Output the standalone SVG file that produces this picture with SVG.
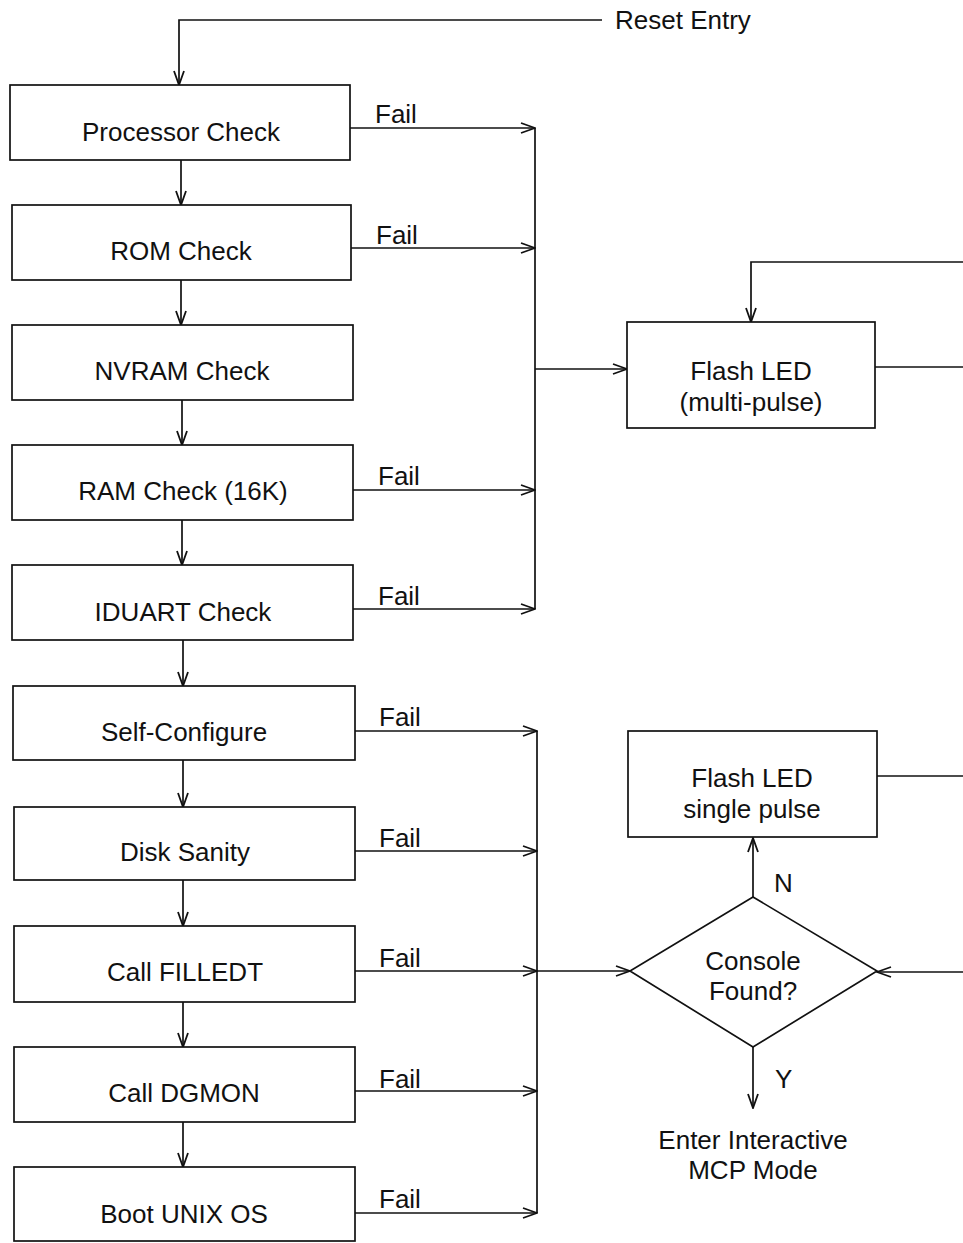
<svg xmlns="http://www.w3.org/2000/svg" width="963" height="1243" viewBox="0 0 963 1243">
<style>
.box{fill:#fff;stroke:#111;stroke-width:1.7}
.ln{fill:none;stroke:#111;stroke-width:1.7}
.t{font-family:"Liberation Sans",Arial,sans-serif;font-size:26px;fill:#111;text-anchor:middle}
.l{font-family:"Liberation Sans",Arial,sans-serif;font-size:26px;fill:#111}
</style>
<defs>
<marker id="ah" markerWidth="16" markerHeight="12" refX="15" refY="6" orient="auto" markerUnits="userSpaceOnUse">
<path d="M1,1 L15,6 L1,11" fill="none" stroke="#111" stroke-width="1.8"/>
</marker>
</defs>
<rect width="963" height="1243" fill="#fff"/>
<g id="connectors">
<path class="ln" d="M602,20 H179 V85" marker-end="url(#ah)"/>
<path class="ln" d="M181,160 V205" marker-end="url(#ah)"/>
<path class="ln" d="M181,280 V325" marker-end="url(#ah)"/>
<path class="ln" d="M182,400 V445" marker-end="url(#ah)"/>
<path class="ln" d="M182,520 V565" marker-end="url(#ah)"/>
<path class="ln" d="M183,640 V686" marker-end="url(#ah)"/>
<path class="ln" d="M183,760 V807" marker-end="url(#ah)"/>
<path class="ln" d="M183,880 V926" marker-end="url(#ah)"/>
<path class="ln" d="M183,1002 V1047" marker-end="url(#ah)"/>
<path class="ln" d="M183,1122 V1167" marker-end="url(#ah)"/>
<path class="ln" d="M350,128 H535" marker-end="url(#ah)"/>
<path class="ln" d="M351,248 H535" marker-end="url(#ah)"/>
<path class="ln" d="M353,490 H535" marker-end="url(#ah)"/>
<path class="ln" d="M353,609 H535" marker-end="url(#ah)"/>
<path class="ln" d="M535,128 V609"/>
<path class="ln" d="M535,369 H627" marker-end="url(#ah)"/>
<path class="ln" d="M875,367 H963"/>
<path class="ln" d="M963,262 H751 V322" marker-end="url(#ah)"/>
<path class="ln" d="M355,731 H537" marker-end="url(#ah)"/>
<path class="ln" d="M355,851 H537" marker-end="url(#ah)"/>
<path class="ln" d="M355,971 H537" marker-end="url(#ah)"/>
<path class="ln" d="M355,1091 H537" marker-end="url(#ah)"/>
<path class="ln" d="M355,1213 H537" marker-end="url(#ah)"/>
<path class="ln" d="M537,731 V1213"/>
<path class="ln" d="M537,971 H630" marker-end="url(#ah)"/>
<path class="ln" d="M963,972 H877" marker-end="url(#ah)"/>
<path class="ln" d="M753,897 V838" marker-end="url(#ah)"/>
<path class="ln" d="M877,776 H963"/>
<path class="ln" d="M753,1047 V1108" marker-end="url(#ah)"/>
<text class="l" x="615" y="29">Reset Entry</text>
<text class="l" x="375" y="123">Fail</text>
<text class="l" x="376" y="244">Fail</text>
<text class="l" x="378" y="485">Fail</text>
<text class="l" x="378" y="605">Fail</text>
<text class="l" x="379" y="726">Fail</text>
<text class="l" x="379" y="847">Fail</text>
<text class="l" x="379" y="967">Fail</text>
<text class="l" x="379" y="1088">Fail</text>
<text class="l" x="379" y="1208">Fail</text>
<text class="l" x="774" y="892">N</text>
<text class="l" x="775" y="1088">Y</text>
</g>
<g id="n1"><rect class="box" x="10" y="85" width="340" height="75"/><text class="t" x="181" y="141">Processor Check</text></g>
<g id="n2"><rect class="box" x="12" y="205" width="339" height="75"/><text class="t" x="181" y="260">ROM Check</text></g>
<g id="n3"><rect class="box" x="12" y="325" width="341" height="75"/><text class="t" x="182" y="380">NVRAM Check</text></g>
<g id="n4"><rect class="box" x="12" y="445" width="341" height="75"/><text class="t" x="183" y="500">RAM Check (16K)</text></g>
<g id="n5"><rect class="box" x="12" y="565" width="341" height="75"/><text class="t" x="183" y="621">IDUART Check</text></g>
<g id="n6"><rect class="box" x="13" y="686" width="342" height="74"/><text class="t" x="184" y="741">Self-Configure</text></g>
<g id="n7"><rect class="box" x="14" y="807" width="341" height="73"/><text class="t" x="185" y="861">Disk Sanity</text></g>
<g id="n8"><rect class="box" x="14" y="926" width="341" height="76"/><text class="t" x="185" y="981">Call FILLEDT</text></g>
<g id="n9"><rect class="box" x="14" y="1047" width="341" height="75"/><text class="t" x="184" y="1102">Call DGMON</text></g>
<g id="n10"><rect class="box" x="14" y="1167" width="341" height="74"/><text class="t" x="184" y="1223">Boot UNIX OS</text></g>
<g id="flash_multi"><rect class="box" x="627" y="322" width="248" height="106"/><text class="t" x="751" y="380">Flash LED</text><text class="t" x="751" y="411">(multi-pulse)</text></g>
<g id="flash_single"><rect class="box" x="628" y="731" width="249" height="106"/><text class="t" x="752" y="787">Flash LED</text><text class="t" x="752" y="818">single pulse</text></g>
<g id="console"><polygon class="box" points="753,897 877,971 753,1047 630,971"/><text class="t" x="753" y="970">Console</text><text class="t" x="753" y="1000">Found?</text></g>
<g id="mcp"><text class="t" x="753" y="1149">Enter Interactive</text><text class="t" x="753" y="1179">MCP Mode</text></g>
</svg>
